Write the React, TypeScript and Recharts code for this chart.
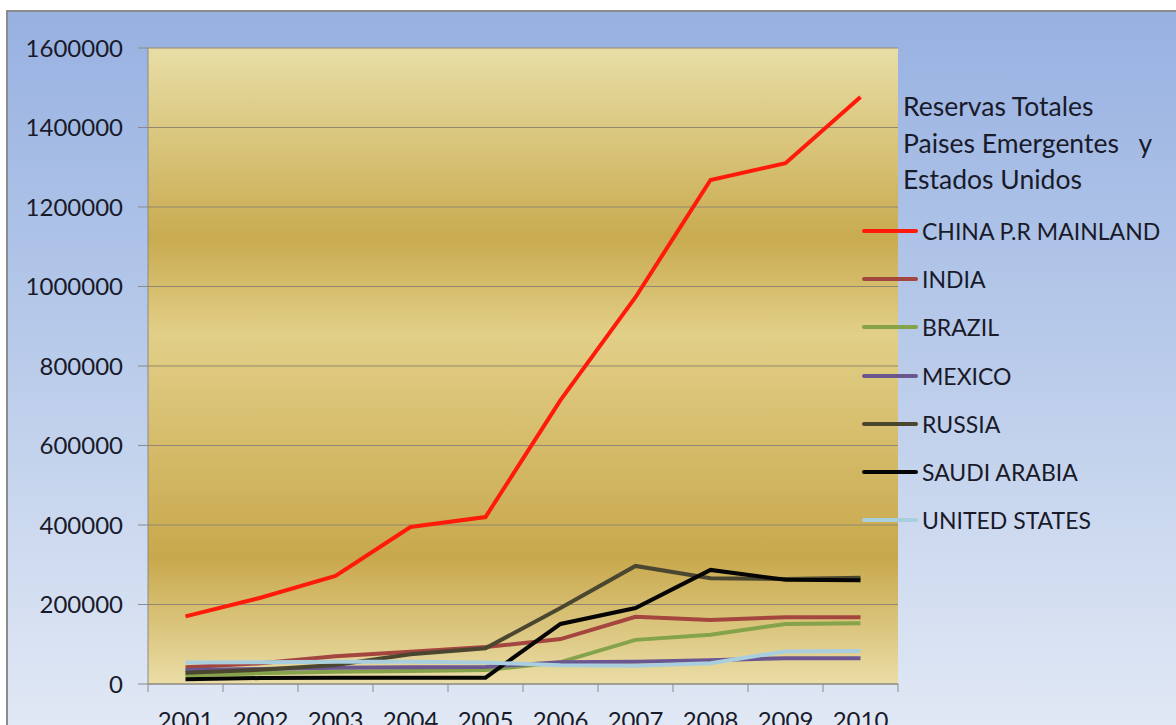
import { ComposedChart, Line, XAxis, YAxis, CartesianGrid } from 'recharts'

const years = ['2001', '2002', '2003', '2004', '2005', '2006', '2007', '2008', '2009', '2010']

const china = [170000, 217000, 272000, 395000, 420000, 714000, 973000, 1268000, 1310000, 1477000]
const india = [42000, 52000, 70000, 81000, 93000, 113000, 169000, 161000, 168000, 168000]
const brazil = [22000, 27000, 31000, 33000, 35000, 55000, 111000, 124000, 151000, 153000]
const mexico = [35000, 38000, 41000, 42000, 43000, 55000, 56000, 60000, 65000, 65000]
const russia = [28000, 36000, 48000, 75000, 90000, 191000, 297000, 266000, 264000, 267000]
const saudi = [12000, 15000, 16000, 16000, 16000, 151000, 191000, 287000, 262000, 261000]
const usa = [54000, 55000, 56000, 56000, 54000, 47000, 46000, 52000, 82000, 83000]

const yTicks = [0, 200000, 400000, 600000, 800000, 1000000, 1200000, 1400000, 1600000]

const series = [
  { key: 'china', name: 'CHINA P.R MAINLAND', color: '#ff1a0a', values: china },
  { key: 'india', name: 'INDIA', color: '#a4453f', values: india },
  { key: 'brazil', name: 'BRAZIL', color: '#85a34a', values: brazil },
  { key: 'mexico', name: 'MEXICO', color: '#6b5690', values: mexico },
  { key: 'russia', name: 'RUSSIA', color: '#4b4630', values: russia },
  { key: 'saudi', name: 'SAUDI ARABIA', color: '#050505', values: saudi },
  { key: 'usa', name: 'UNITED STATES', color: '#a9cfdf', values: usa },
]

const data = years.map((year, i) => {
  const row: Record<string, string | number> = { year }
  series.forEach(s => { row[s.key] = s.values[i] })
  return row
})

const FONT = 'Lato, "Noto Sans", sans-serif'
const TEXT = '#191a2a'
const AXIS = '#8a8a8a'

const W = 1176
const H = 770
const M = { top: 48, right: 278, left: 0, bottom: 26 }
const Y_W = 148
const band = (W - M.right - Y_W) / years.length

// tick marks sit on the category boundaries, labels in the middle (Excel style)
const XTick = (props: any) => {
  const { x, y, payload, index } = props
  const last = index === years.length - 1
  return (
    <g>
      <line x1={x - band / 2} x2={x - band / 2} y1={y} y2={y + 8} stroke={AXIS} />
      {last && <line x1={x + band / 2} x2={x + band / 2} y1={y} y2={y + 8} stroke={AXIS} />}
      <text x={x} y={y + 35} textAnchor="middle" dominantBaseline="central"
        fontSize={24} fontFamily={FONT} fill={TEXT}>
        {payload.value}
      </text>
    </g>
  )
}

const LegendBox = () => (
  <div style={{ position: 'absolute', left: 862, top: 88, width: 314, fontFamily: FONT, color: TEXT }}>
    <div style={{ marginLeft: 41, fontSize: 26.5, lineHeight: '36.5px', whiteSpace: 'pre' }}>
      {'Reservas Totales\nPaises Emergentes   y\nEstados Unidos'}
    </div>
    <div style={{ marginTop: 9 }}>
      {series.map(s => (
        <div key={s.key} style={{ display: 'flex', alignItems: 'center', height: 48.3 }}>
          <div style={{ width: 56, height: 4, borderRadius: 2, background: s.color, marginRight: 4 }} />
          <span style={{ fontSize: 23 }}>{s.name}</span>
        </div>
      ))}
    </div>
  </div>
)

export default function App() {
  return (
    <div style={{ position: 'fixed', left: 0, top: 0, width: W, height: 725, overflow: 'hidden', background: '#ffffff' }}>
      <svg width={0} height={0} style={{ position: 'absolute' }}>
        <defs>
          <linearGradient id="goldBg" x1="0" y1="0" x2="0" y2="1">
            <stop offset="0%" stopColor="#e8dea6" />
            <stop offset="30%" stopColor="#c9ab50" />
            <stop offset="45%" stopColor="#e2cf88" />
            <stop offset="80%" stopColor="#c8a84c" />
            <stop offset="100%" stopColor="#eadda6" />
          </linearGradient>
        </defs>
      </svg>
      <div style={{
        position: 'absolute', left: 6, top: 10, width: W, height: 760,
        borderLeft: '2px solid #8c8c8c', borderTop: '2px solid #8c8c8c',
        background: 'linear-gradient(180deg, #97b1e1 0%, #b9cbea 45%, #e6ecf6 100%)',
      }} />
      <div style={{ position: 'absolute', left: 0, top: 0 }}>
        <ComposedChart width={W} height={H} data={data} margin={M}>
          <CartesianGrid vertical={false} stroke="#928670" fill="url(#goldBg)" fillOpacity={1} />
          <XAxis dataKey="year" scale="point" padding={{ left: band / 2, right: band / 2 }}
            axisLine={{ stroke: AXIS }} tickLine={false} tickMargin={0}
            tickSize={0} height={60} tick={<XTick />} interval={0} />
          <YAxis domain={[0, 1600000]} ticks={yTicks} width={Y_W} axisLine={{ stroke: AXIS }}
            tickLine={{ stroke: AXIS }} tickSize={10} tickMargin={15}
            tick={{ fontSize: 24, fontFamily: FONT, fill: TEXT }} interval={0} />
          {series.map(s => (
            <Line key={s.key} dataKey={s.key} name={s.name} type="linear" stroke={s.color}
              strokeWidth={4} dot={false} activeDot={false} isAnimationActive={false} />
          ))}
        </ComposedChart>
      </div>
      <LegendBox />
    </div>
  )
}
